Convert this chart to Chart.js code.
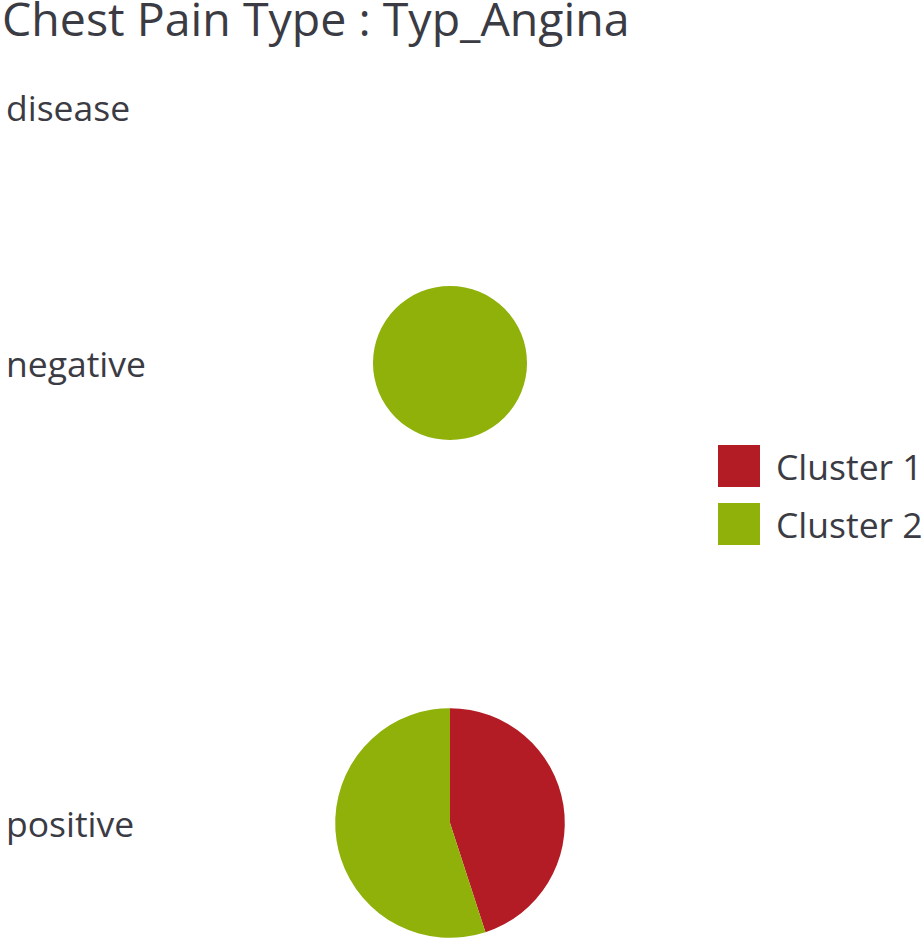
<!DOCTYPE html>
<html><head><meta charset="utf-8">
<script src="https://cdn.jsdelivr.net/npm/chart.js@4.4.1/dist/chart.umd.min.js"></script>
<style>
html,body{margin:0;padding:0;background:#fff}
body{width:922px;height:941px;position:relative;overflow:hidden;font-family:"Open Sans",sans-serif;color:#3b3b44}
#title{position:absolute;left:2px;top:0px;font-size:46.5px;line-height:0.8;white-space:nowrap;padding-bottom:4px}
#header{position:absolute;left:6px;top:90px;font-size:35.5px;line-height:1}
.rowlabel{position:absolute;left:6px;font-size:35.5px;line-height:1}
.pie{position:absolute;left:300px;width:300px;height:300px}
#legend{position:absolute;left:718px;top:445px}
.li{display:flex;align-items:center;height:42px;margin-bottom:16px;font-size:35.5px;white-space:nowrap}
.sw{width:42px;height:42px;margin-right:16px;flex:none}
</style>
</head><body>
<div id="title"></div>
<div id="header"></div>
<div id="rows"></div>
<div id="legend"></div>
<script>
const titleText = "Chest Pain Type : Typ_Angina";
const rowHeader = "disease";
const diseaseRows = ["negative", "positive"];
const clusters = ["Cluster 1", "Cluster 2"];
const clusterColors = ["#b31c24", "#8fb10a"];
const negativeCounts = [0, 9];
const positiveCounts = [9, 11];
const rowCounts = [negativeCounts, positiveCounts];

document.getElementById('title').textContent = titleText;
document.getElementById('header').textContent = rowHeader;

const rowCenters = [363, 823];
const radiusPerSqrt = 25.67;
const rowsEl = document.getElementById('rows');
diseaseRows.forEach((name, i) => {
  const lab = document.createElement('div');
  lab.className = 'rowlabel';
  lab.style.top = (rowCenters[i] - 17.5) + 'px';
  lab.textContent = name;
  rowsEl.appendChild(lab);
  const box = document.createElement('div');
  box.className = 'pie';
  box.style.top = (rowCenters[i] - 150) + 'px';
  const c = document.createElement('canvas');
  c.width = 300; c.height = 300;
  box.appendChild(c);
  rowsEl.appendChild(box);
  const total = rowCounts[i].reduce((a, b) => a + b, 0);
  new Chart(c, {
    type: 'pie',
    data: {
      labels: clusters,
      datasets: [{
        data: rowCounts[i],
        backgroundColor: clusterColors,
        borderWidth: 0,
        radius: radiusPerSqrt * Math.sqrt(total)
      }]
    },
    options: {
      responsive: false,
      animation: false,
      layout: {padding: 0},
      plugins: {legend: {display: false}, tooltip: {enabled: false}}
    }
  });
});

const leg = document.getElementById('legend');
clusters.forEach((name, i) => {
  const li = document.createElement('div');
  li.className = 'li';
  const sw = document.createElement('div');
  sw.className = 'sw';
  sw.style.background = clusterColors[i];
  const t = document.createElement('span');
  t.textContent = name;
  li.appendChild(sw); li.appendChild(t);
  leg.appendChild(li);
});
</script>
</body></html>
